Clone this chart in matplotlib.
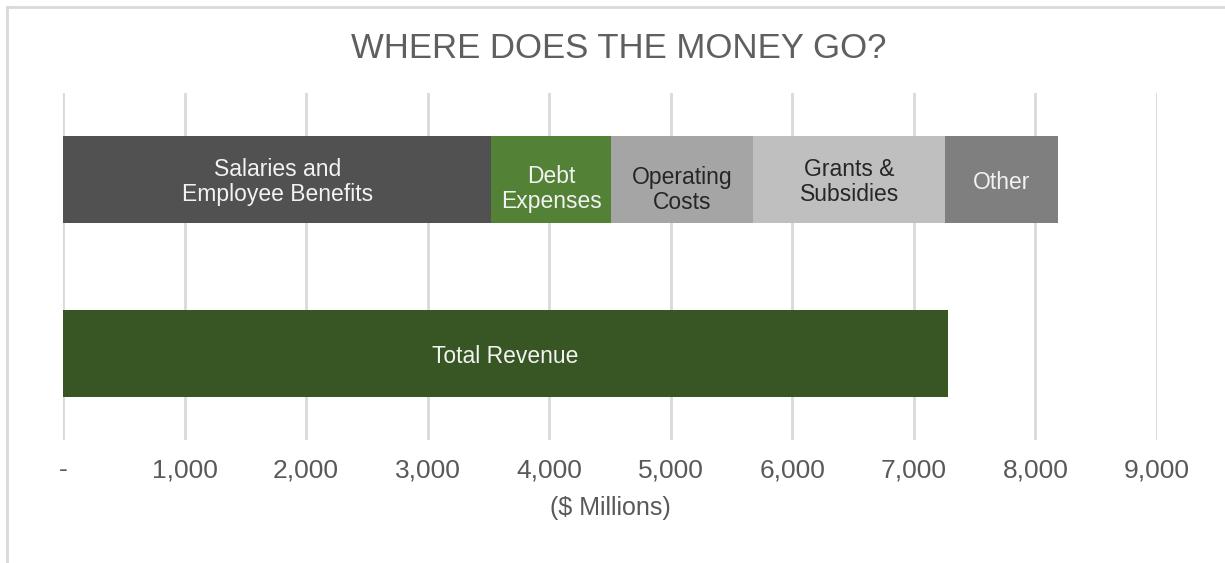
import matplotlib
matplotlib.use("Agg")
import matplotlib.pyplot as plt
from matplotlib.lines import Line2D

plt.rcParams['font.family'] = ['Liberation Sans', 'DejaVu Sans']

# Data
expense_labels = ["Salaries and\nEmployee Benefits", "Debt\nExpenses", "Operating\nCosts",
                  "Grants &\nSubsidies", "Other"]
expense_values = [3525, 985, 1170, 1575, 930]
expense_colors = ["#515151", "#538135", "#a5a5a5", "#bfbfbf", "#7f7f7f"]
expense_text_colors = ["#f2f2f2", "#f2f2f2", "#262626", "#262626", "#f2f2f2"]
label_offsets_pt = [-1.9, -6.8, -7.4, -1.9, -1.7]
revenue_label = "Total Revenue"
revenue_value = 7280
revenue_color = "#375623"
x_ticks = [0, 1000, 2000, 3000, 4000, 5000, 6000, 7000, 8000, 9000]
x_tick_labels = ["-", "1,000", "2,000", "3,000", "4,000", "5,000", "6,000", "7,000", "8,000", "9,000"]
title = "WHERE DOES THE MONEY GO?"
x_title = "($ Millions)"

fig = plt.figure(figsize=(12.25, 5.63), dpi=100)
ax = fig.add_axes([63 / 1225, 1 - 440 / 563, (1157 - 63) / 1225, (440 - 93) / 563])

bar_h = 0.5
left = 0
for lab, val, col, tcol, off in zip(expense_labels, expense_values, expense_colors,
                                    expense_text_colors, label_offsets_pt):
    ax.barh(1, val, left=left, height=bar_h, color=col, zorder=3)
    ax.annotate(lab, (left + val / 2, 1), xytext=(0, off), textcoords="offset points",
                ha="center", va="center", color=tcol, fontsize=16.5, linespacing=1.12, zorder=4)
    left += val

ax.barh(0, revenue_value, height=bar_h, color=revenue_color, zorder=3)
ax.annotate(revenue_label, (revenue_value / 2, 0), xytext=(0, -2), textcoords="offset points",
            ha="center", va="center", color="#f2f2f2", fontsize=16.5, zorder=4)

ax.set_xlim(0, 9000)
ax.set_ylim(-0.5, 1.5)
ax.set_xticks(x_ticks)
ax.set_xticklabels(x_tick_labels)
ax.set_yticks([])
ax.tick_params(axis="x", length=0, pad=13, labelsize=19, labelcolor="#595959")
ax.grid(axis="x", color="#d9d9d9", linewidth=2, zorder=0)
for s in ax.spines.values():
    s.set_visible(False)

ax.set_xlabel(x_title, fontsize=18, color="#595959", labelpad=10)

fig.text(619 / 1225, 1 - 48 / 563, title, ha="center", va="center", fontsize=25, color="#5f5f5f")

# figure border (top and left)
fig.add_artist(Line2D([7 / 1225, 1.0], [1 - 7 / 563, 1 - 7 / 563], color="#d9d9d9", linewidth=2,
                      transform=fig.transFigure))
fig.add_artist(Line2D([7 / 1225, 7 / 1225], [0, 1 - 7 / 563], color="#d9d9d9", linewidth=2,
                      transform=fig.transFigure))

fig.savefig("out.png", dpi=100)
